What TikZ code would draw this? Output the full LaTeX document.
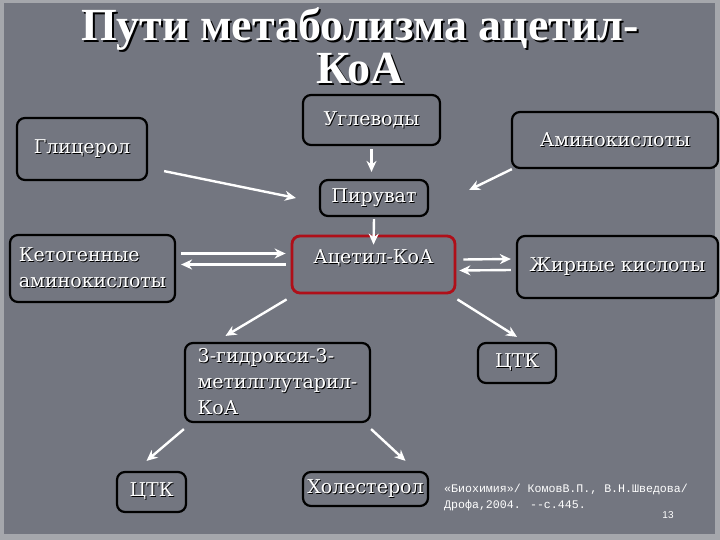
\documentclass[tikz,border=0pt]{standalone}
\usepackage{fontspec}
\setmainfont{DejaVu Serif}
\newfontfamily\headfont{Liberation Serif}
\newfontfamily\reffont{Liberation Mono}
\newfontfamily\pagefont{Liberation Sans}
\usetikzlibrary{arrows.meta}
\definecolor{slide}{RGB}{115,118,128}
\definecolor{rim}{RGB}{165,167,172}
\definecolor{keyred}{RGB}{175,15,25}
\newcommand\shd[1]{\rlap{\kern1pt\raisebox{-1pt}{\color{black}#1}}#1}
\newcommand\bigshd[1]{\rlap{\kern2pt\raisebox{-2pt}{\color{black}#1}}#1}
\tikzset{
  sub/.style={draw=black, line width=2.2pt, rounded corners=8pt, fill=slide,
    text=white, inner sep=2pt, font=\fontsize{19}{26}\selectfont},
  key/.style={sub, draw=keyred, line width=2.8pt},
  arr/.style={draw=white, line width=2.4pt, -{Stealth[length=11pt,width=10pt]}},
}

\begin{document}
\begin{tikzpicture}[x=1pt,y=-1pt] % pixel units, y downwards
\fill[rim] (0,0) rectangle (720,540);
\fill[slide] (4,3) rectangle (715,534); % slide area

\node[text=white, align=center, font=\headfont\bfseries\fontsize{46}{43}\selectfont]
  (title) at (360,47) {\bigshd{Пути метаболизма ацетил-}\\\bigshd{КоА}};

% substrates
\node[sub, minimum width=137pt, minimum height=50pt] (carb) at (371.5,120) {\shd{Углеводы}};
\node[sub, minimum width=130pt, minimum height=62pt] (glyc) at (82,149) {\shd{Глицерол}};
\node[sub, minimum width=206pt, minimum height=56pt] (amino) at (615,140) {\shd{Аминокислоты}};
\node[sub, minimum width=108pt, minimum height=36pt] (pyr) at (374,198) {\shd{Пируват}};

% central node
\node[key, minimum width=163pt, minimum height=57pt, text height=14pt, text depth=16pt]
  (acoa) at (373.5,264.5) {\shd{Ацетил-КоА}};
\node[sub, minimum width=165pt, minimum height=67pt, align=left] (keto) at (92.5,268.5)
  {\shd{Кетогенные}\\\shd{аминокислоты}};
\node[sub, minimum width=201pt, minimum height=62pt] (fatty) at (617.5,267) {\shd{Жирные кислоты}};

% products
\node[sub, minimum width=185pt, minimum height=79pt, align=left] (hmg) at (277.5,382.5)
  {\shd{3-гидрокси-3-}\\\shd{метилглутарил-}\\\shd{КоА}};
\node[sub, minimum width=78pt, minimum height=40pt] (tcaR) at (517,363) {\shd{ЦТК}};
\node[sub, minimum width=69pt, minimum height=40pt] (tcaL) at (151.5,492) {\shd{ЦТК}};
\node[sub, minimum width=125pt, minimum height=34pt] (chol) at (365.5,489) {\shd{Холестерол}};

\node[text=white, align=left, anchor=north west, inner sep=0pt,
  font=\reffont\fontsize{11.6}{16}\selectfont] (cite) at (444,484)
  {«Биохимия»/ КомовВ.П., В.Н.Шведова/\\Дрофа,2004. --с.445.};
\node[text=white, font=\pagefont\fontsize{10}{12}\selectfont] (page) at (668,515) {13};

% connectors
\draw[arr] ([yshift=-3pt]carb.south) -- ([yshift=7pt]carb.south |- pyr.north);
\draw[arr] ([xshift=16pt,yshift=10pt]glyc.south east) -- ([xshift=-23pt]pyr.west);
\draw[arr] ([xshift=1pt]amino.south west) -- ([xshift=40pt,yshift=8pt]pyr.east);
\draw[arr] ([yshift=-2pt]pyr.south) -- ([yshift=-10pt]acoa.north);

\draw[arr] ([xshift=5pt,yshift=15pt]keto.east) -- ([xshift=-5pt,yshift=11pt]acoa.west);
\draw[arr] ([xshift=-5pt,yshift=0pt]acoa.west) -- ([xshift=5pt,yshift=4pt]keto.east);
\draw[arr] ([xshift=7pt,yshift=5pt]acoa.east) -- ([xshift=-5pt,yshift=8pt]fatty.west);
\draw[arr] ([xshift=-5pt,yshift=-3pt]fatty.west) -- ([xshift=3pt,yshift=-6pt]acoa.east);

\draw[arr] ([xshift=-4pt,yshift=-5pt]acoa.south west) -- ([xshift=-52pt,yshift=6pt]hmg.north);
\draw[arr] ([xshift=1pt,yshift=-5pt]acoa.south east) -- ([yshift=5pt]tcaR.north);
\draw[arr] ([yshift=-6pt]hmg.south west) -- ([xshift=-5pt,yshift=10pt]tcaL.north);
\draw[arr] ([yshift=-6pt]hmg.south east) -- ([xshift=40pt,yshift=10pt]chol.north);
\end{tikzpicture}
\end{document}
